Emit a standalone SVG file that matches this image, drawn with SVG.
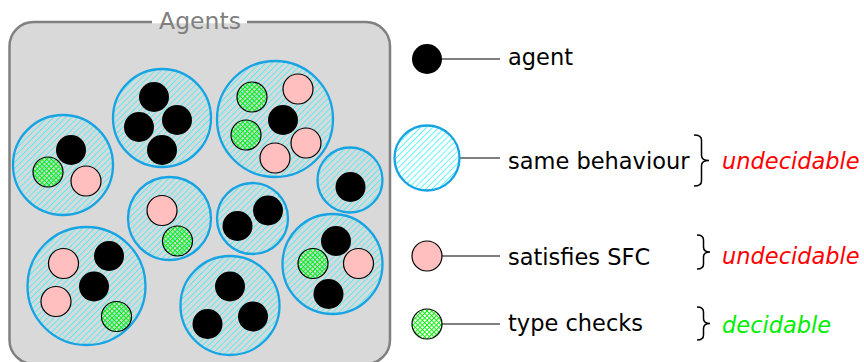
<svg xmlns="http://www.w3.org/2000/svg" width="864" height="362" viewBox="0 0 864 362">
<defs>
<pattern id="hatch" patternUnits="userSpaceOnUse" width="4.3" height="4.3" patternTransform="rotate(-45)">
<line x1="0" y1="0.5" x2="4.3" y2="0.5" stroke="#20f6ff" stroke-width="0.7"/>
</pattern>
<pattern id="cross" patternUnits="userSpaceOnUse" width="3.3" height="3.3" patternTransform="rotate(45)">
<line x1="0" y1="0.5" x2="3.3" y2="0.5" stroke="#00ee00" stroke-width="0.9"/>
<line x1="0.5" y1="0" x2="0.5" y2="3.3" stroke="#00ee00" stroke-width="0.9"/>
</pattern>
</defs>
<style>
.grp{fill:url(#hatch);stroke:#18a3e3;stroke-width:2.3}
.ag{fill:#000}
.sfc{fill:#ffbfbf;stroke:#000;stroke-width:1.2}
.tc{fill:url(#cross);stroke:#000;stroke-width:1.2}
.lbl{font-family:"DejaVu Sans",sans-serif;font-size:22.5px;fill:#000}
.dec{font-family:"DejaVu Sans",sans-serif;font-size:22.5px;font-style:italic}
.lk{stroke:#000;stroke-width:1.2;fill:none}
.brace{stroke:#000;stroke-width:1.5;fill:none}
</style>
<rect width="864" height="362" fill="#fff"/>
<g id="agents-box">
<rect x="9.5" y="22" width="380.5" height="342" rx="24" fill="#d9d9d9" stroke="#808080" stroke-width="2.5"/>
<rect x="152" y="18" width="95" height="8" fill="#fff"/>
<rect x="152" y="23.3" width="95" height="4" fill="#d9d9d9"/>
<text x="200" y="29" text-anchor="middle" font-family="DejaVu Sans, sans-serif" font-size="23.5" fill="#808080">Agents</text>
</g>
<g id="g1">
<circle class="grp" cx="63" cy="165" r="50"/>
<circle class="ag" cx="71" cy="150" r="15"/>
<circle class="tc" cx="48" cy="172" r="15"/>
<circle class="sfc" cx="86" cy="181" r="15"/>
</g>
<g id="g2">
<circle class="grp" cx="162" cy="118" r="49"/>
<circle class="ag" cx="154" cy="97" r="15"/>
<circle class="ag" cx="139" cy="127" r="15"/>
<circle class="ag" cx="177" cy="120" r="15"/>
<circle class="ag" cx="162" cy="150" r="15"/>
</g>
<g id="g3">
<circle class="grp" cx="275" cy="119" r="58"/>
<circle class="tc" cx="252" cy="97" r="15"/>
<circle class="sfc" cx="298" cy="89" r="15"/>
<circle class="ag" cx="283" cy="120" r="15"/>
<circle class="tc" cx="246" cy="135" r="15"/>
<circle class="sfc" cx="306" cy="143" r="15"/>
<circle class="sfc" cx="275" cy="158" r="15"/>
</g>
<g id="g4">
<circle class="grp" cx="350" cy="180" r="32.5"/>
<circle class="ag" cx="350.5" cy="187" r="15"/>
</g>
<g id="g5">
<circle class="grp" cx="169.5" cy="218.5" r="41.5"/>
<circle class="sfc" cx="162" cy="210.5" r="15"/>
<circle class="tc" cx="177.5" cy="241" r="15"/>
</g>
<g id="g6">
<circle class="grp" cx="252.5" cy="218.5" r="35.5"/>
<circle class="ag" cx="237.5" cy="226" r="15"/>
<circle class="ag" cx="268" cy="210.5" r="15"/>
</g>
<g id="g7">
<circle class="grp" cx="86.5" cy="286" r="59"/>
<circle class="sfc" cx="63.5" cy="263.5" r="15"/>
<circle class="ag" cx="109" cy="256" r="15"/>
<circle class="ag" cx="94" cy="286.5" r="15"/>
<circle class="sfc" cx="56" cy="301.5" r="15"/>
<circle class="tc" cx="116.5" cy="316.5" r="15"/>
</g>
<g id="g8">
<circle class="grp" cx="230" cy="305.5" r="49.5"/>
<circle class="ag" cx="230" cy="286.5" r="15"/>
<circle class="ag" cx="207.5" cy="324" r="15"/>
<circle class="ag" cx="253" cy="316.5" r="15"/>
</g>
<g id="g9">
<circle class="grp" cx="332.5" cy="264" r="50"/>
<circle class="ag" cx="336" cy="241" r="15"/>
<circle class="tc" cx="313" cy="263.5" r="15"/>
<circle class="sfc" cx="358.5" cy="263.5" r="15"/>
<circle class="ag" cx="328.5" cy="294" r="15"/>
</g>
<g id="connectors">
<line class="lk" x1="442" y1="59" x2="500" y2="59"/>
<line class="lk" x1="459.5" y1="158" x2="500" y2="158" stroke="#555"/>
<line class="lk" x1="442" y1="256" x2="500" y2="256"/>
<line class="lk" x1="442" y1="324" x2="500" y2="324"/>
</g>
<g id="legend-agent">
<circle class="ag" cx="427" cy="59" r="15"/>
<text class="lbl" x="508" y="65">agent</text>
</g>
<g id="legend-behaviour">
<circle class="grp" cx="427" cy="158" r="32.5"/>
<text class="lbl" x="508" y="169">same behaviour</text>
<path class="brace" d="M694 135 Q701.5 135 701.5 140 L701.5 155.5 Q701.5 160.5 709 160.5 Q701.5 160.5 701.5 165.5 L701.5 181 Q701.5 186 694 186"/>
<text class="dec" x="722" y="169" fill="#ff0000">undecidable</text>
</g>
<g id="legend-sfc">
<circle class="sfc" cx="427" cy="256" r="15"/>
<text class="lbl" x="508" y="265">satisfies SFC</text>
<path class="brace" d="M697 235 Q703.5 235 703.5 240 L703.5 247 Q703.5 252 710 252 Q703.5 252 703.5 257 L703.5 264 Q703.5 269 697 269"/>
<text class="dec" x="722" y="264" fill="#ff0000">undecidable</text>
</g>
<g id="legend-type">
<circle class="tc" cx="427" cy="324" r="15"/>
<text class="lbl" x="508" y="331">type checks</text>
<path class="brace" d="M697 307 Q703.5 307 703.5 312 L703.5 318.5 Q703.5 323.5 710 323.5 Q703.5 323.5 703.5 328.5 L703.5 335 Q703.5 340 697 340"/>
<text class="dec" x="722" y="333" fill="#00ee00">decidable</text>
</g>
</svg>
